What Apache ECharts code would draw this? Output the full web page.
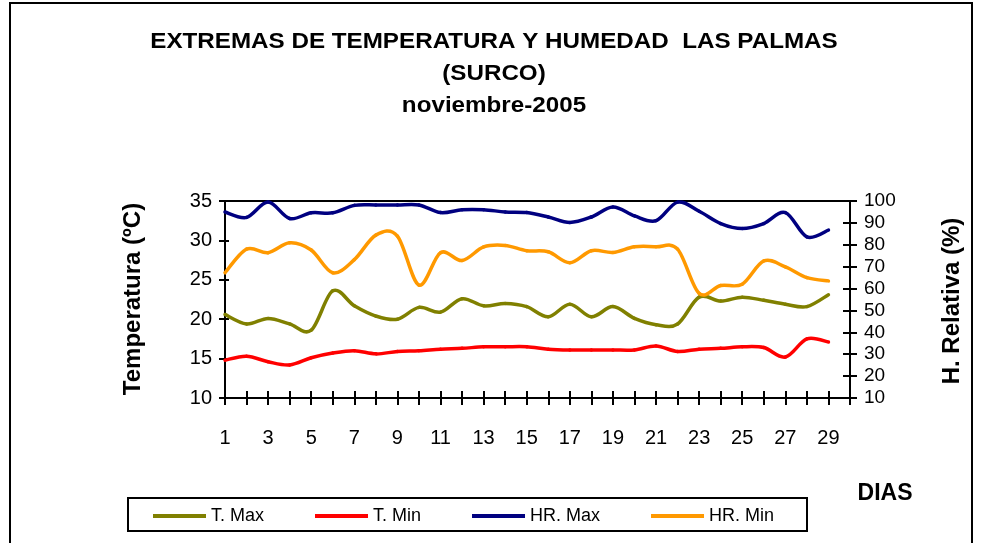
<!DOCTYPE html>
<html>
<head>
<meta charset="utf-8">
<script src="https://cdn.jsdelivr.net/npm/echarts@6.0.0/dist/echarts.min.js"></script>
<style>
  html, body { margin: 0; padding: 0; background: #ffffff; }
  #chart { width: 981px; height: 543px; }
</style>
</head>
<body>
<div id="chart"></div>
<script>
// Días del mes (noviembre tiene 30; el día 30 no tiene registro)
const dias = ['1','2','3','4','5','6','7','8','9','10','11','12','13','14','15',
              '16','17','18','19','20','21','22','23','24','25','26','27','28','29','30'];

// Temperatura máxima y mínima diaria (ºC)
const tMax = [20.6, 19.4, 20.1, 19.4, 18.6, 23.6, 21.7, 20.4, 20.0, 21.5,
              20.9, 22.6, 21.7, 22.0, 21.6, 20.3, 21.9, 20.3, 21.6, 20.1,
              19.3, 19.4, 22.8, 22.3, 22.8, 22.4, 21.9, 21.6, 23.1];
const tMin = [14.8, 15.3, 14.6, 14.2, 15.1, 15.7, 16.0, 15.6, 15.9, 16.0,
              16.2, 16.3, 16.5, 16.5, 16.5, 16.2, 16.1, 16.1, 16.1, 16.1,
              16.6, 15.9, 16.2, 16.3, 16.5, 16.4, 15.2, 17.5, 17.1];

// Humedad relativa máxima y mínima diaria (%)
const hrMax = [95.0, 92.5, 99.5, 92.0, 94.6, 94.6, 98.0, 98.2, 98.2, 98.2,
               94.7, 96.0, 96.0, 95.0, 94.7, 92.7, 90.2, 92.7, 97.3, 93.2,
               91.0, 99.5, 95.3, 89.7, 87.4, 89.7, 94.7, 83.6, 86.7];
const hrMin = [67.2, 78.0, 76.4, 80.9, 77.6, 67.2, 73.2, 84.4, 84.0, 61.6,
               76.4, 72.8, 79.0, 79.7, 77.3, 76.8, 71.8, 77.3, 76.5, 79.1,
               79.1, 78.0, 57.8, 61.4, 62.0, 72.6, 69.9, 65.0, 63.5];

// Textos
const titulo = ['EXTREMAS DE TEMPERATURA Y HUMEDAD  LAS PALMAS', '(SURCO)', 'noviembre-2005'];
const nombres = ['T. Max', 'T. Min', 'HR. Max', 'HR. Min'];
const colores = ['#808000', '#FF0000', '#000080', '#FF9900'];

const FONT = '"Liberation Sans", Arial, sans-serif';
const chart = echarts.init(document.getElementById('chart'), null, { renderer: 'canvas' });

// Línea suavizada tipo Catmull-Rom: cada tramo entre dos días consecutivos
// se dibuja como una curva Bézier cuyos puntos de control dependen de los vecinos.
function serie(i, valores, yIdx) {
  const n = valores.length;
  return {
    name: nombres[i],
    type: 'custom',
    xAxisIndex: 0,
    yAxisIndex: yIdx,
    data: valores.map((v, k) => [k, v]),
    encode: { x: 0, y: 1 },
    itemStyle: { color: colores[i] },
    animation: false,
    silent: true,
    renderItem: function (params, api) {
      const k = params.dataIndex;
      if (k >= n - 1) return null;
      const idx = j => Math.max(0, Math.min(n - 1, j));
      const p0 = api.coord([idx(k - 1), valores[idx(k - 1)]]);
      const p1 = api.coord([k, valores[k]]);
      const p2 = api.coord([k + 1, valores[k + 1]]);
      const p3 = api.coord([idx(k + 2), valores[idx(k + 2)]]);
      return {
        type: 'bezierCurve',
        shape: {
          x1: p1[0], y1: p1[1],
          cpx1: p1[0] + (p2[0] - p0[0]) / 6, cpy1: p1[1] + (p2[1] - p0[1]) / 6,
          cpx2: p2[0] - (p3[0] - p1[0]) / 6, cpy2: p2[1] - (p3[1] - p1[1]) / 6,
          x2: p2[0], y2: p2[1]
        },
        style: { fill: 'none', stroke: colores[i], lineWidth: 3.5, lineCap: 'round' }
      };
    }
  };
}

const ejeBase = {
  axisLine: { show: true, lineStyle: { color: '#000', width: 2 } },
  splitLine: { show: false }
};

const option = {
  animation: false,
  backgroundColor: '#ffffff',
  grid: {
    left: 225, right: 131, top: 201, bottom: 145,
    show: true, borderColor: '#000', borderWidth: 2,
    containLabel: false, outerBoundsMode: 'none'
  },
  xAxis: [
    Object.assign({}, ejeBase, {
      type: 'category', data: dias, boundaryGap: false, position: 'bottom',
      axisTick: { show: true, interval: 0, length: 7, inside: false, lineStyle: { color: '#000', width: 2 } },
      axisLabel: { interval: 1, margin: 30, color: '#000', fontSize: 20, fontFamily: FONT }
    }),
    {
      type: 'category', data: dias, boundaryGap: false, position: 'bottom',
      axisLine: { show: false }, splitLine: { show: false }, axisLabel: { show: false },
      axisTick: { show: true, interval: 0, length: 7, inside: true, lineStyle: { color: '#000', width: 2 } }
    }
  ],
  yAxis: [
    Object.assign({}, ejeBase, {
      type: 'value', min: 10, max: 35, interval: 5, position: 'left',
      axisTick: { show: true, length: 6, inside: false, lineStyle: { color: '#000', width: 2 } },
      axisLabel: { margin: 13, color: '#000', fontSize: 20, fontFamily: FONT }
    }),
    Object.assign({}, ejeBase, {
      type: 'value', min: 10, max: 100, interval: 10, position: 'right',
      axisTick: { show: true, length: 7, inside: false, lineStyle: { color: '#000', width: 2 } },
      axisLabel: { margin: 14, color: '#000', fontSize: 19, fontFamily: FONT }
    }),
    {
      type: 'value', min: 10, max: 35, interval: 5, position: 'left',
      axisLine: { show: false }, splitLine: { show: false }, axisLabel: { show: false },
      axisTick: { show: true, length: 4, inside: true, lineStyle: { color: '#000', width: 2 } }
    },
    {
      type: 'value', min: 10, max: 100, interval: 10, position: 'right',
      axisLine: { show: false }, splitLine: { show: false }, axisLabel: { show: false },
      axisTick: { show: true, length: 7, inside: true, lineStyle: { color: '#000', width: 2 } }
    }
  ],
  legend: {
    show: true,
    left: 153, top: 507,
    orient: 'horizontal',
    icon: 'rect',
    itemWidth: 53, itemHeight: 4, itemGap: 51,
    padding: 0,
    selectedMode: false,
    textStyle: { color: '#000', fontSize: 18, fontFamily: FONT, padding: [0, 0, 0, 0] },
    data: nombres
  },
  series: [
    serie(0, tMax, 0),
    serie(1, tMin, 0),
    serie(2, hrMax, 1),
    serie(3, hrMin, 1)
  ],
  graphic: [
    { type: 'rect', silent: true, z: -10,
      shape: { x: 10, y: 3, width: 962, height: 600 },
      style: { fill: 'none', stroke: '#000', lineWidth: 2 } },
    { type: 'rect', silent: true,
      shape: { x: 128, y: 498, width: 679, height: 33 },
      style: { fill: 'none', stroke: '#000', lineWidth: 2 } },
    { type: 'text', x: 494, y: 42, scaleX: 1.1, silent: true,
      style: { text: titulo[0], x: 0, y: 0, fill: '#000', font: 'bold 22px ' + FONT,
               textAlign: 'center', textVerticalAlign: 'middle' } },
    { type: 'text', x: 494, y: 74, scaleX: 1.1, silent: true,
      style: { text: titulo[1], x: 0, y: 0, fill: '#000', font: 'bold 22px ' + FONT,
               textAlign: 'center', textVerticalAlign: 'middle' } },
    { type: 'text', x: 494, y: 106, scaleX: 1.1, silent: true,
      style: { text: titulo[2], x: 0, y: 0, fill: '#000', font: 'bold 22px ' + FONT,
               textAlign: 'center', textVerticalAlign: 'middle' } },
    { type: 'text', x: 133, y: 299, rotation: Math.PI / 2, silent: true,
      style: { text: 'Temperatura (ºC)', x: 0, y: 0, fill: '#000', font: 'bold 24px ' + FONT,
               textAlign: 'center', textVerticalAlign: 'middle' } },
    { type: 'text', x: 952, y: 301, rotation: Math.PI / 2, silent: true,
      style: { text: 'H. Relativa (%)', x: 0, y: 0, fill: '#000', font: 'bold 24px ' + FONT,
               textAlign: 'center', textVerticalAlign: 'middle' } },
    { type: 'text', x: 885, y: 494, silent: true,
      style: { text: 'DIAS', x: 0, y: 0, fill: '#000', font: 'bold 23px ' + FONT,
               textAlign: 'center', textVerticalAlign: 'middle' } }
  ]
};

chart.setOption(option);
</script>
</body>
</html>
